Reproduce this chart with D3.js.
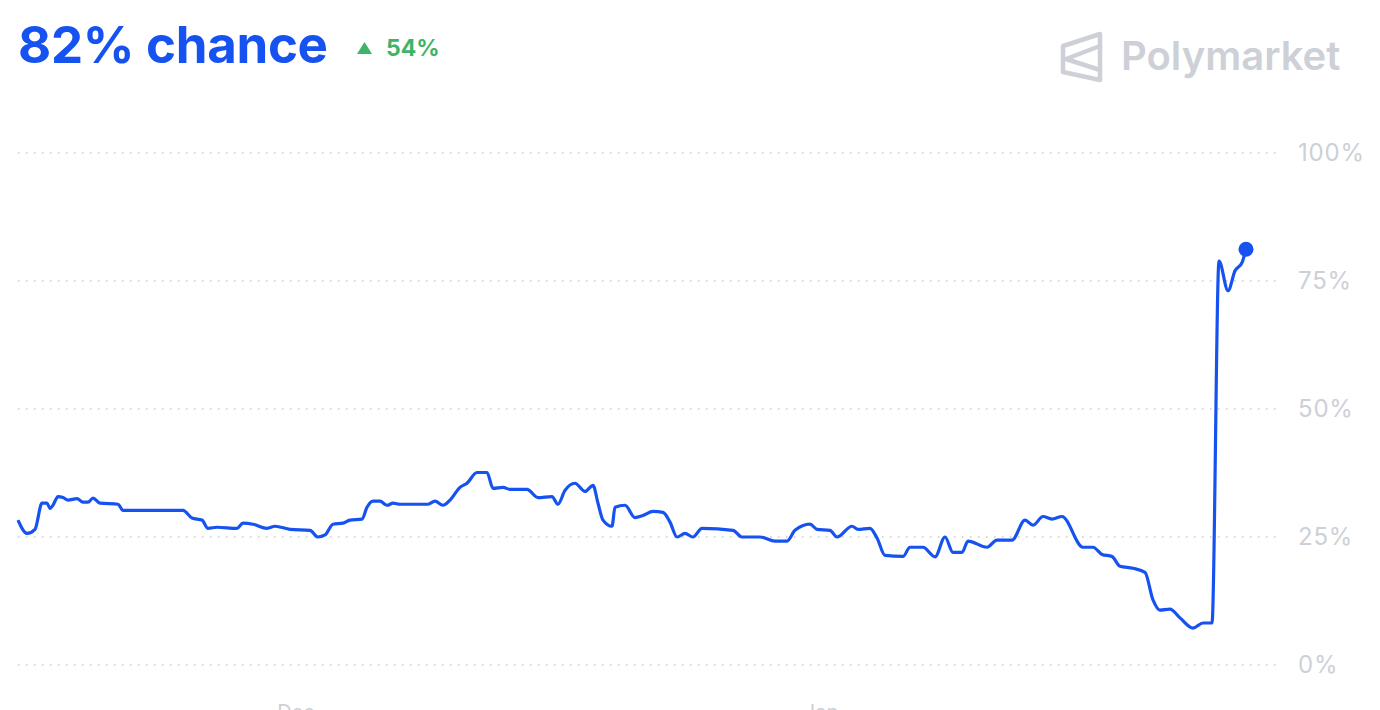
<!DOCTYPE html>
<html>
<head>
<meta charset="utf-8">
<script src="https://cdn.jsdelivr.net/npm/d3@7"></script>
<style>
  body { margin: 0; background: #fff; }
  text { font-family: Inter, "Open Sans", sans-serif; }
</style>
</head>
<body>
<div id="chart_container"></div>
<script>
// hours since start of the window
let hours = [0, 9, 17, 24, 29, 32, 35, 40, 45, 50, 59, 65, 70, 75, 82, 100, 105, 165, 174, 184,
  190, 199, 219, 225, 235, 249, 257, 272, 292, 300, 307, 315, 325, 332, 344, 349, 355, 362, 369, 375,
  382, 410, 417, 425, 432, 442, 449, 459, 469, 475, 485, 492, 509, 520, 534, 540, 547, 557, 567, 575,
  580, 585, 594, 597, 607, 617, 625, 635, 645, 652, 659, 667, 675, 684, 715, 724, 742, 757, 769, 777,
  792, 799, 812, 819, 834, 840, 852, 859, 867, 885, 892, 905, 917, 927, 935, 944, 950, 969, 979, 994,
  1007, 1015, 1025, 1034, 1044, 1065, 1075, 1084, 1094, 1102, 1115, 1127, 1135, 1142, 1152, 1162, 1175, 1185, 1194, 1201,
  1210, 1217, 1224, 1228];
// chance in %
let chance = [28.3, 25.7, 26.5, 31.6, 31.6, 30.6, 31.2, 32.9, 32.7, 32.2, 32.5, 31.8, 31.8, 32.6, 31.6, 31.4, 30.2, 30.2, 28.7, 28.3,
  26.7, 26.9, 26.7, 27.7, 27.5, 26.7, 27.1, 26.5, 26.3, 25.0, 25.4, 27.5, 27.7, 28.3, 28.5, 30.8, 32.0, 32.0, 31.2, 31.6,
  31.4, 31.4, 32.0, 31.2, 32.2, 34.7, 35.5, 37.6, 37.6, 34.5, 34.7, 34.3, 34.3, 32.7, 32.9, 31.4, 34.1, 35.5, 33.9, 35.1,
  31.6, 28.3, 27.1, 30.8, 31.2, 28.8, 29.2, 30.0, 29.8, 27.9, 25.0, 25.7, 25.0, 26.7, 26.3, 25.0, 25.0, 24.2, 24.2, 26.3,
  27.5, 26.5, 26.3, 25.0, 27.1, 26.5, 26.7, 24.8, 21.4, 21.2, 23.0, 23.0, 21.1, 25.0, 22.0, 22.0, 24.2, 23.0, 24.4, 24.4,
  28.3, 27.3, 29.0, 28.5, 29.0, 23.0, 23.0, 21.6, 21.2, 19.3, 18.9, 18.1, 12.7, 10.7, 10.9, 9.2, 7.2, 8.2, 8.2, 78.9,
  73.1, 77.0, 78.6, 81.2];

let yTicks = [0, 25, 50, 75, 100];
let xTickHours = [278, 803];
let xTickLabels = ["Dec", "Jan"];

let width = 1380, height = 710;
let blue = "#1652f0";
let gray = "#cdd0d6";

let svg = d3.select("#chart_container").append("svg")
  .attr("width", width)
  .attr("height", height);

let x = d3.scaleLinear().domain([0, 1262]).range([18, 1280]);
let y = d3.scaleLinear().domain([0, 100]).range([665, 153]);

// header
svg.append("text")
  .attr("x", 18).attr("y", 63)
  .attr("fill", blue)
  .style("font-size", "51px").style("font-weight", 700)
  .style("letter-spacing", "-0.3px")
  .text("82% chance");

svg.append("path")
  .attr("d", "M357,54 L364.5,42 L372,54 Z")
  .attr("fill", "#3db468");
svg.append("text")
  .attr("x", 386).attr("y", 56)
  .attr("fill", "#3db468")
  .style("font-size", "23px").style("font-weight", 700)
  .text("54%");

// logo
let logo = svg.append("g")
  .attr("fill", "none")
  .attr("stroke", gray)
  .attr("stroke-width", 4.5)
  .attr("stroke-linejoin", "round");
logo.append("path").attr("d", "M1100,34 L1063,46 L1063,72 L1100,80 Z");
logo.append("path").attr("d", "M1100,46 L1066,59 L1100,70");
svg.append("text")
  .attr("x", 1121).attr("y", 70)
  .attr("fill", gray)
  .style("font-size", "40px").style("font-weight", 600)
  .text("Polymarket");

// grid + y labels
svg.selectAll(".grid")
  .data(yTicks)
  .enter()
  .append("line")
  .attr("x1", 18).attr("x2", 1282)
  .attr("y1", d => y(d)).attr("y2", d => y(d))
  .attr("stroke", "#d2d5da")
  .attr("stroke-width", 1.8)
  .attr("stroke-dasharray", "1.5,6.5");

svg.selectAll(".ylab")
  .data(yTicks)
  .enter()
  .append("text")
  .attr("x", 1298)
  .attr("y", d => y(d))
  .attr("dy", "0.35em")
  .attr("fill", gray)
  .style("font-size", "24px")
  .style("letter-spacing", "0.8px")
  .text(d => d + "%");

// x labels (cut off by the bottom edge, as in the source)
svg.selectAll(".xlab")
  .data(xTickHours)
  .enter()
  .append("text")
  .attr("x", d => x(d))
  .attr("y", 719)
  .attr("text-anchor", "middle")
  .attr("fill", gray)
  .style("font-size", "20px")
  .text((d, i) => xTickLabels[i]);

// line
let points = hours.map((h, i) => ({h: h, v: chance[i]}));
let line = d3.line()
  .x(d => x(d.h))
  .y(d => y(d.v))
  .curve(d3.curveMonotoneX);

svg.append("path")
  .datum(points)
  .attr("d", line)
  .attr("fill", "none")
  .attr("stroke", blue)
  .attr("stroke-width", 3.2)
  .attr("stroke-linejoin", "round");

let last = points[points.length - 1];
svg.append("circle")
  .attr("cx", x(last.h))
  .attr("cy", y(last.v))
  .attr("r", 7.5)
  .attr("fill", blue);
</script>
</body>
</html>
